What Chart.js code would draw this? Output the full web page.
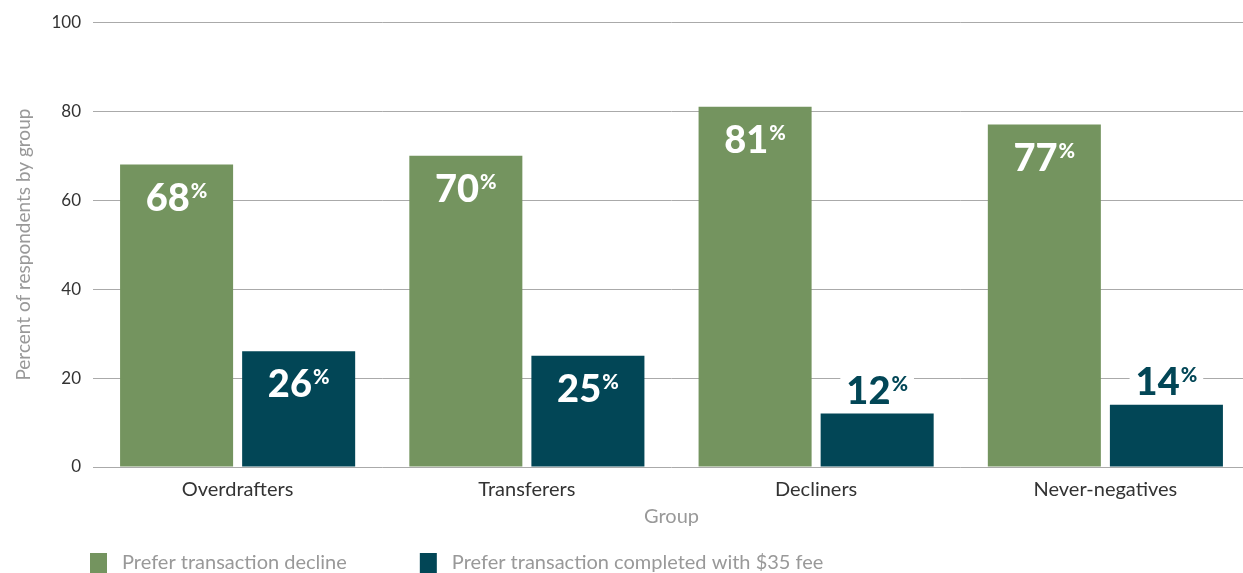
<!DOCTYPE html>
<html>
<head>
<meta charset="utf-8">
<script src="https://cdn.jsdelivr.net/npm/chart.js@4.4.0/dist/chart.umd.min.js"></script>
<style>
  html, body { margin: 0; padding: 0; background: #fff; overflow: hidden; }
  #wrap { width: 1250px; height: 582px; position: relative; }
</style>
</head>
<body>
<div id="wrap"><canvas id="groupChart"></canvas></div>
<script>
// data
const groups = ['Overdrafters', 'Transferers', 'Decliners', 'Never-negatives'];
const declineValues = [68, 70, 81, 77];
const feeValues = [26, 25, 12, 14];
const yTicks = [0, 20, 40, 60, 80, 100];
const seriesNames = ['Prefer transaction decline', 'Prefer transaction completed with $35 fee'];

const green = '#74945f';
const teal = '#024656';

Chart.defaults.font.family = 'Lato, "DejaVu Sans", sans-serif';

// big "68%" style labels, % as superscript
const barLabels = {
    id: 'barLabels',
    afterDatasetsDraw(chart) {
        const ctx = chart.ctx;
        chart.data.datasets.forEach((ds, i) => {
            const meta = chart.getDatasetMeta(i);
            meta.data.forEach((bar, j) => {
                const v = ds.data[j];
                const num = String(v);
                ctx.save();
                ctx.font = '900 38px Lato';
                const nw = ctx.measureText(num).width;
                ctx.font = '900 20px Lato';
                const pw = ctx.measureText('%').width;
                const total = nw + pw + 1;
                const left = bar.x - total / 2;
                const inside = v >= 20;
                const base = inside ? bar.y + 46 : bar.y - 10;
                if (!inside) {
                    ctx.fillStyle = '#fff';
                    ctx.fillRect(left - 6, base - 32, total + 12, 36);
                }
                ctx.fillStyle = inside ? '#fff' : ds.backgroundColor;
                ctx.textAlign = 'left';
                ctx.textBaseline = 'alphabetic';
                ctx.font = '900 38px Lato';
                ctx.fillText(num, left, base);
                ctx.font = '900 20px Lato';
                ctx.fillText('%', left + nw + 1, base - 13);
                ctx.restore();
            });
        });
    }
};

// legend under the axis, left aligned
const bottomLegend = {
    id: 'bottomLegend',
    afterDraw(chart) {
        const ctx = chart.ctx;
        const y = chart.scales.x.bottom + 34;
        let x = 90;
        ctx.save();
        ctx.font = '20px Lato';
        ctx.textAlign = 'left';
        ctx.textBaseline = 'middle';
        chart.data.datasets.forEach(ds => {
            ctx.fillStyle = ds.backgroundColor;
            ctx.fillRect(x, y - 10, 17, 21);
            ctx.fillStyle = '#999';
            ctx.fillText(ds.label, x + 32, y);
            x += 32 + ctx.measureText(ds.label).width + 73;
        });
        ctx.restore();
    }
};

const ctx = document.getElementById('groupChart').getContext('2d');
const groupChart = new Chart(ctx, {
    type: 'bar',
    data: {
        labels: groups,
        datasets: [
            {
                label: seriesNames[0],
                data: declineValues,
                backgroundColor: green,
                barPercentage: 0.926,
                categoryPercentage: 0.844
            },
            {
                label: seriesNames[1],
                data: feeValues,
                backgroundColor: teal,
                barPercentage: 0.926,
                categoryPercentage: 0.844
            }
        ]
    },
    options: {
        responsive: true,
        maintainAspectRatio: false,
        animation: false,
        layout: { padding: { left: 12, top: 22, right: 0, bottom: 53 } },
        scales: {
            x: {
                grid: { display: false, drawTicks: false },
                border: { display: false },
                ticks: { padding: 11, color: '#333', font: { size: 20 } },
                title: {
                    display: true,
                    text: 'Group',
                    color: '#999',
                    font: { size: 20 },
                    padding: { top: 0, bottom: 0 }
                },
                afterFit: scale => { scale.height = 62; }
            },
            y: {
                min: 0,
                max: 100,
                afterBuildTicks: scale => { scale.ticks = yTicks.map(v => ({ value: v })); },
                grid: { color: '#aaa', drawTicks: false },
                border: { display: false },
                ticks: { padding: 12, color: '#333', font: { size: 17 } },
                title: {
                    display: true,
                    text: 'Percent of respondents by group',
                    color: '#999',
                    font: { size: 19 },
                    padding: { top: 0, bottom: 0 }
                },
                afterFit: scale => { scale.width = 81; }
            }
        },
        plugins: {
            legend: { display: false },
            tooltip: { enabled: false }
        }
    },
    plugins: [barLabels, bottomLegend]
});
</script>
</body>
</html>
